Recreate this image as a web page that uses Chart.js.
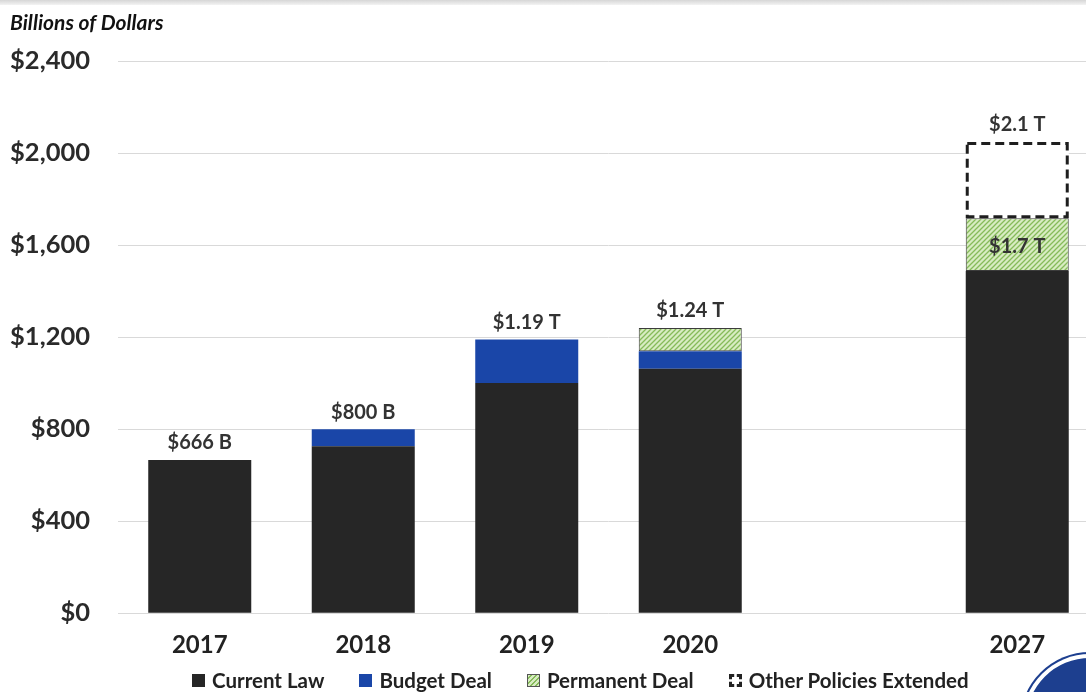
<!DOCTYPE html>
<html>
<head>
<meta charset="utf-8">
<script src="https://cdn.jsdelivr.net/npm/chart.js@4"></script>
<style>
	html, body { margin: 0; padding: 0; background: #fff; overflow: hidden; }
	#wrap { position: relative; width: 1086px; height: 692px; overflow: hidden; }
	#topbar { position: absolute; left: 0; top: 0; width: 1086px; height: 5px; background: linear-gradient(#d6d6d6, #f3f3f3); }
	#box { position: absolute; left: 0; top: 0; width: 1100px; height: 692px; }
	#legend { position: absolute; left: 192px; top: 668px; display: flex; gap: 35px; font: bold 20.5px Lato, sans-serif; color: #222; white-space: nowrap; }
	#legend .item { display: flex; align-items: center; gap: 7px; }
	#legend .sw { width: 13px; height: 13px; box-sizing: border-box; }
	#seal { position: absolute; left: 1022px; top: 654px; width: 136px; height: 136px; border-radius: 50%; background: #1d3f8f; box-shadow: inset 0 0 0 4px #fff, 0 0 0 2px #1d3f8f; }
</style>
</head>
<body>
<div id="wrap">
	<div id="topbar"></div>
	<div id="box"><canvas id="spendChart"></canvas></div>
	<div id="legend"></div>
	<div id="seal"></div>
</div>
<script>
const years = ["2017", "2018", "2019", "2020", "", "2027"];
const currentLaw = [666, 726, 1000, 1062, null, 1487];
const budgetDeal = [null, 74, 190, 77, null, null];
const permanentDeal = [null, null, null, 101, null, 230];
const otherPolicies = [null, null, null, null, null, 331];
const totalLabels = ["$666 B", "$800 B", "$1.19 T", "$1.24 T", "", "$2.1 T"];
const insideLabels = ["", "", "", "", "", "$1.7 T"];
const yTicks = [0, 400, 800, 1200, 1600, 2000, 2400];
const seriesNames = ["Current Law", "Budget Deal", "Permanent Deal", "Other Policies Extended"];

const FONT = "Lato, 'Open Sans', sans-serif";

// diagonal hatch for the permanent deal
function makeHatch() {
	const c = document.createElement("canvas");
	c.width = 5;
	c.height = 5;
	const g = c.getContext("2d");
	g.fillStyle = "#d8ecc2";
	g.fillRect(0, 0, 5, 5);
	g.strokeStyle = "#86bb5a";
	g.lineWidth = 1.3;
	g.beginPath();
	g.moveTo(-1, 6); g.lineTo(6, -1);
	g.moveTo(-1, 1); g.lineTo(1, -1);
	g.moveTo(4, 6); g.lineTo(6, 4);
	g.stroke();
	return g.createPattern(c, "repeat");
}
const hatch = makeHatch();

const labelPlugin = {
	id: "labels",
	afterDatasetsDraw(chart) {
		const ctx = chart.ctx;
		ctx.save();
		// dashed box for "other policies"
		const otherMeta = chart.getDatasetMeta(3);
		otherMeta.data.forEach((bar, i) => {
			if (otherPolicies[i] == null) return;
			const w = bar.width;
			ctx.strokeStyle = "#1e1e1e";
			ctx.lineWidth = 3;
			ctx.setLineDash([9, 5]);
			ctx.strokeRect(bar.x - w / 2 + 1.5, bar.y + 1.5, w - 3, bar.base - bar.y - 3);
		});
		ctx.setLineDash([]);
		ctx.fillStyle = "#333";
		ctx.font = "bold 20px " + FONT;
		ctx.textAlign = "center";
		ctx.textBaseline = "middle";
		years.forEach((y, i) => {
			if (!totalLabels[i]) return;
			let top = null;
			for (let d = 0; d < 4; d++) {
				if (chart.data.datasets[d].data[i] != null) top = chart.getDatasetMeta(d).data[i];
			}
			if (top) ctx.fillText(totalLabels[i], top.x, top.y - 17);
		});
		const permMeta = chart.getDatasetMeta(2);
		permMeta.data.forEach((bar, i) => {
			if (!insideLabels[i]) return;
			ctx.fillText(insideLabels[i], bar.x, (bar.y + bar.base) / 2 + 2);
		});
		// axis title
		ctx.textAlign = "left";
		ctx.fillStyle = "#111";
		ctx.font = "italic bold 21px " + FONT;
		ctx.fillText("Billions of Dollars", 10, 23);
		ctx.restore();
	},
};

const ctx = document.getElementById("spendChart").getContext("2d");
const spendChart = new Chart(ctx, {
	type: "bar",
	data: {
		labels: years,
		datasets: [
			{ label: seriesNames[0], data: currentLaw, backgroundColor: "#262626" },
			{ label: seriesNames[1], data: budgetDeal, backgroundColor: "#1a46a8" },
			{
				label: seriesNames[2],
				data: permanentDeal,
				backgroundColor: hatch,
				borderColor: "#3c3c3c",
				borderWidth: 1,
				borderSkipped: false,
			},
			{ label: seriesNames[3], data: otherPolicies, backgroundColor: "#ffffff" },
		],
	},
	options: {
		responsive: true,
		maintainAspectRatio: false,
		animation: false,
		barPercentage: 0.63,
		categoryPercentage: 1,
		layout: { padding: { top: 61, left: 10, right: 1, bottom: 22 } },
		scales: {
			x: {
				stacked: true,
				grid: { display: false },
				border: { display: false },
				ticks: { color: "#222", font: { family: FONT, size: 24, weight: "bold" }, padding: 10 },
			},
			y: {
				stacked: true,
				min: 0,
				max: 2400,
				afterBuildTicks: (s) => { s.ticks = yTicks.map((v) => ({ value: v })); },
				afterFit: (s) => { s.width = 108; },
				grid: { color: "#d9d9d9", lineWidth: 1, drawTicks: false },
				border: { display: false },
				ticks: {
					color: "#2a2a2a",
					padding: 28,
					font: { family: FONT, size: 25.5, weight: "bold" },
					callback: (v) => "$" + v.toLocaleString("en-US"),
				},
			},
		},
		plugins: {
			legend: { display: false },
			tooltip: { enabled: false },
		},
	},
	plugins: [labelPlugin],
});

// legend built from the dataset names
const legendEl = document.getElementById("legend");
const swatches = [
	"background:#262626",
	"background:#1a46a8",
	"background:repeating-linear-gradient(-45deg,#d8ecc2 0 2px,#86bb5a 2px 3.5px);border:1px solid #555",
	"border:3px dashed #222;background:#fff",
];
seriesNames.forEach((name, i) => {
	const item = document.createElement("div");
	item.className = "item";
	item.innerHTML = '<span class="sw" style="' + swatches[i] + '"></span><span>' + name + "</span>";
	legendEl.appendChild(item);
});
</script>
</body>
</html>
